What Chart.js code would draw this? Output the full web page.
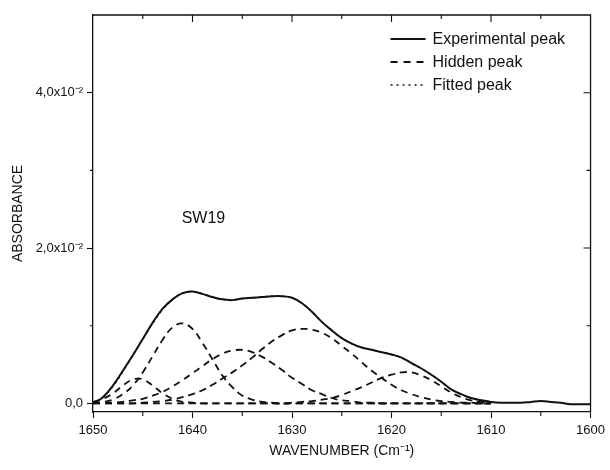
<!DOCTYPE html>
<html>
<head>
<meta charset="utf-8">
<script src="https://cdn.jsdelivr.net/npm/chart.js@4.4.0/dist/chart.umd.min.js"></script>
<style>
  body { margin: 0; background: #fff; }
  canvas { display: block; }
</style>
</head>
<body>
<canvas id="chart_sw19" width="610" height="470"></canvas>
<script>
// wavenumbers (cm-1), 1650 -> 1600
var wavenumbers = [1650,1649,1648,1647,1646,1645,1644,1643,1642,1641,1640,1639,1638,1637,1636,1635,1634,1633,1632,1631,1630,
                   1629,1628,1627,1626,1625,1624,1623,1622,1621,1620,1619,1618,1617,1616,1615,1614,1613,1612,1611,1610,
                   1609,1608,1607,1606,1605,1604,1603,1602,1601,1600]

var experimental = [0.0000,0.0008,0.0023,0.0042,0.0062,0.0083,0.0104,0.0122,0.0134,0.0142,0.0144,0.0141,0.0137,0.0134,0.0133,0.0135,0.0136,0.0137,0.0138,0.0138,0.0136,
                    0.0129,0.0118,0.0105,0.0094,0.0084,0.0077,0.0072,0.0069,0.0066,0.0063,0.0059,0.0052,0.0045,0.0037,0.0028,0.0018,0.0012,0.0007,0.0004,0.0002,
                    0.0001,0.0001,0.0001,0.0002,0.0003,0.0002,0.0001,-0.0001,-0.0001,-0.0001]

// hidden (deconvoluted) peaks, 1650 -> 1610
var hiddenWn = wavenumbers.slice(0, 41)
var hidden1 = [0.0002,0.0006,0.0013,0.0023,0.0031,0.0031,0.0023,0.0013,0.0006,0.0002,0.0001,0,0,0,0,0,0,0,0,0,0,
               0,0,0,0,0,0,0,0,0,0,0,0,0,0,0,0,0,0,0,0]
var hidden2 = [0.0001,0.0002,0.0005,0.0012,0.0023,0.0040,0.0061,0.0082,0.0098,0.0103,0.0096,0.0078,0.0057,0.0036,0.0021,0.0010,0.0005,0.0002,0.0001,0,0,
               0,0,0,0,0,0,0,0,0,0,0,0,0,0,0,0,0,0,0,0]
var hidden3 = [0,0.0001,0.0001,0.0002,0.0004,0.0006,0.0010,0.0015,0.0022,0.0030,0.0039,0.0048,0.0057,0.0064,0.0068,0.0069,0.0066,0.0060,0.0052,0.0043,0.0033,
               0.0025,0.0017,0.0012,0.0007,0.0004,0.0003,0.0001,0.0001,0,0,0,0,0,0,0,0,0,0,0,0]
var hidden4 = [0,0,0,0,0,0.0001,0.0002,0.0003,0.0005,0.0008,0.0012,0.0017,0.0024,0.0032,0.0040,0.0049,0.0059,0.0070,0.0080,0.0088,0.0094,
               0.0096,0.0095,0.0091,0.0084,0.0074,0.0064,0.0053,0.0042,0.0033,0.0024,0.0017,0.0012,0.0008,0.0005,0.0003,0.0002,0.0001,0.0001,0,0]
var hidden5 = [0,0,0,0,0,0,0,0,0,0,0,0,0,0,0,0,0,0,0,0,0.0001,
               0.0002,0.0003,0.0005,0.0007,0.0011,0.0016,0.0021,0.0027,0.0033,0.0037,0.0040,0.0040,0.0036,0.0030,0.0022,0.0014,0.0008,0.0004,0.0002,0.0001]

// fitted sum of the hidden peaks (lies under the experimental trace)
var fitted = [0.0000,0.0008,0.0022,0.0041,0.0062,0.0083,0.0103,0.0121,0.0134,0.0142,0.0144,0.0141,0.0137,0.0134,0.0133,0.0135,0.0136,0.0137,0.0138,0.0138,0.0136,
              0.0129,0.0118,0.0105,0.0094,0.0084,0.0077,0.0072,0.0069,0.0066,0.0063,0.0059,0.0052,0.0045,0.0037,0.0028,0.0018,0.0012,0.0007,0.0004,0.0002]

var xTicks = [1650, 1640, 1630, 1620, 1610, 1600]
var yTickLabels = {0: '0,0', 2: '2,0x10\u207B\u00B2', 4: '4,0x10\u207B\u00B2'}
var legendLabels = ['Experimental peak', 'Hidden peak', 'Fitted peak']
var sampleName = 'SW19'

var ink = '#111'
var font = "'Liberation Sans', Arial, Helvetica, sans-serif"

function pairs(xs, ys) {
    return ys.map(function(v, i) { return {x: xs[i], y: v} })
}

function hiddenSet(vals) {
    return {
        data: pairs(hiddenWn, vals),
        borderColor: ink,
        borderWidth: 1.8,
        borderDash: [7, 5],
        pointRadius: 0,
        fill: false,
        tension: 0.4,
        order: 1
    }
}

// frame, inner ticks, minor ticks, legend and sample label
var decorations = {
    id: 'decorations',
    afterDraw: function(chart) {
        var c = chart.ctx, a = chart.chartArea
        var xs = chart.scales.x, ys = chart.scales.y
        c.save()
        c.strokeStyle = ink
        c.lineWidth = 1.3
        c.setLineDash([])
        c.beginPath()
        c.moveTo(a.left, a.top); c.lineTo(a.right, a.top); c.lineTo(a.right, a.bottom)
        c.stroke()

        c.lineWidth = 1.1
        c.beginPath()
        for (var w = 1645; w > 1600; w -= 5) {
            var px = xs.getPixelForValue(w)
            var major = (w % 10 === 0)
            c.moveTo(px, a.top); c.lineTo(px, a.top + (major ? 7 : 4))
            if (!major) { c.moveTo(px, a.bottom); c.lineTo(px, a.bottom + 4) }
        }
        for (var k = 1; k <= 4; k++) {
            var py = ys.getPixelForValue(k / 100)
            c.moveTo(a.right, py); c.lineTo(a.right - (k % 2 === 0 ? 7 : 4), py)
            if (k % 2 === 1) { c.moveTo(a.left, py); c.lineTo(a.left - 3, py) }
        }
        c.stroke()

        // legend
        var lx = a.right - 200, ly = a.top + 24
        var dashes = [[], [7, 6], [2, 4]]
        var widths = [2, 1.8, 1.5]
        c.font = '16px ' + font
        c.fillStyle = ink
        c.textBaseline = 'middle'
        c.textAlign = 'left'
        for (var i = 0; i < 3; i++) {
            var yy = ly + i * 23
            c.beginPath()
            c.lineWidth = widths[i]
            c.setLineDash(dashes[i])
            c.moveTo(lx, yy); c.lineTo(lx + 35, yy)
            c.stroke()
            c.fillText(legendLabels[i], lx + 42, yy + 1)
        }

        c.textAlign = 'center'
        c.fillText(sampleName, xs.getPixelForValue(1638.9), ys.getPixelForValue(0.0238))
        c.restore()
    }
}

var ctx = document.getElementById('chart_sw19')

var chartLine = new Chart(ctx, {
    type: 'line',
    data: {
        datasets: [
            {
                label: 'Experimental peak',
                data: pairs(wavenumbers, experimental),
                borderColor: ink,
                borderWidth: 2,
                pointRadius: 0,
                fill: false,
                tension: 0.4,
                order: 0
            },
            hiddenSet(hidden1),
            hiddenSet(hidden2),
            hiddenSet(hidden3),
            hiddenSet(hidden4),
            hiddenSet(hidden5),
            {
                label: 'Fitted peak',
                data: pairs(hiddenWn, fitted),
                borderColor: ink,
                borderWidth: 1.5,
                borderDash: [2, 4],
                pointRadius: 0,
                fill: false,
                tension: 0.4,
                order: 2
            }
        ]
    },
    options: {
        responsive: false,
        animation: false,
        layout: { padding: { left: 0, right: 18, top: 15, bottom: 0 } },
        plugins: {
            legend: { display: false },
            tooltip: { enabled: false }
        },
        scales: {
            x: {
                type: 'linear',
                reverse: true,
                min: 1600,
                max: 1650,
                afterFit: function(scale) { scale.height = 58 },
                afterBuildTicks: function(scale) {
                    scale.ticks = xTicks.map(function(v) { return {value: v} })
                },
                border: { display: true, color: ink, width: 1.3 },
                grid: { display: true, drawOnChartArea: false, drawTicks: true, tickLength: 6, tickColor: ink, tickWidth: 1.1 },
                ticks: {
                    color: ink,
                    padding: 5,
                    maxRotation: 0,
                    autoSkip: false,
                    font: { family: font, size: 13 },
                    callback: function(value) { return String(value) }
                },
                title: {
                    display: true,
                    text: 'WAVENUMBER (Cm\u207B\u00B9)',
                    color: ink,
                    font: { family: font, size: 14 },
                    padding: { top: 0, bottom: 10 }
                }
            },
            y: {
                min: -0.0011,
                max: 0.05,
                afterFit: function(scale) { scale.width = 93 },
                border: { display: true, color: ink, width: 1.3 },
                grid: {
                    display: true,
                    drawOnChartArea: false,
                    drawTicks: true,
                    tickLength: 6,
                    tickWidth: 1.1,
                    tickColor: function(context) {
                        var k = Math.round(context.tick.value * 100)
                        return (yTickLabels[k] !== undefined) ? ink : 'rgba(0,0,0,0)'
                    }
                },
                ticks: {
                    stepSize: 0.01,
                    includeBounds: false,
                    color: ink,
                    padding: 4,
                    font: { family: font, size: 13 },
                    callback: function(value) {
                        var k = Math.round(value * 100)
                        return yTickLabels[k] !== undefined ? yTickLabels[k] : ''
                    }
                },
                title: {
                    display: true,
                    text: 'ABSORBANCE',
                    color: ink,
                    font: { family: font, size: 14 },
                    padding: { top: 10, bottom: 0 }
                }
            }
        }
    },
    plugins: [decorations]
});
</script>
</body>
</html>
